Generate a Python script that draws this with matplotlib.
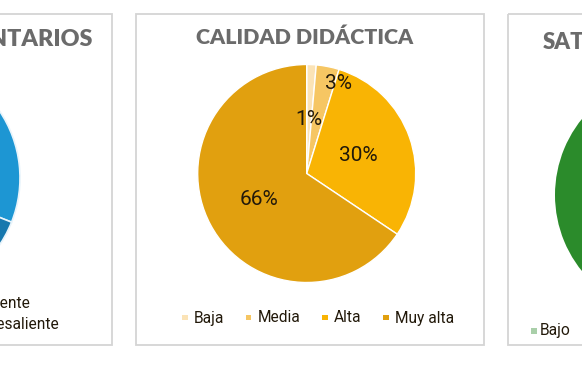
import matplotlib
matplotlib.use("Agg")
import matplotlib.pyplot as plt
from matplotlib.patches import Rectangle

W, H = 582, 373

# centre panel: didactic quality
calidad_labels = ["Baja", "Media", "Alta", "Muy alta"]
calidad_values = [1.4, 3.4, 29.6, 65.6]
calidad_colors = ["#fbe3b6", "#f6c663", "#f9b404", "#e1a00f"]

# left panel (cut off): only two slices visible
coment_values = [31, 69]
coment_colors = ["#1d96d3", "#1778ae"]
coment_legend = ["Excelente", "Sobresaliente"]

# right panel (cut off)
sat_values = [100]
sat_colors = ["#2b8b2b"]
sat_legend = ["Bajo"]
sat_legend_colors = ["#a9cfa9"]

TITLE_GRAY = "#6b6b6b"
BOX_GRAY = "#d4d4d4"
TEXT = "#22190a"
LEG_FONT = dict(fontsize=11.2, fontfamily="Roboto", color=TEXT)

fig = plt.figure(figsize=(W / 100, H / 100), dpi=100)
fig.patch.set_facecolor("white")
renderer = fig.canvas.get_renderer()

# background axes in pixel coordinates (y downwards)
bg = fig.add_axes([0, 0, 1, 1])
bg.set_xlim(0, W)
bg.set_ylim(H, 0)
bg.axis("off")


def pie_axes(cx, cy, r):
    ax = fig.add_axes([(cx - r) / W, (H - cy - r) / H, 2 * r / W, 2 * r / H])
    return ax


def finish(ax):
    ax.set_xlim(-1, 1)
    ax.set_ylim(-1, 1)
    ax.set_aspect("equal")
    ax.axis("off")


def legend_row(x, y, labels, colors, size=5.5, pad=6, gap=22):
    # small square + label, laid out left to right
    for lab, c in zip(labels, colors):
        bg.add_patch(Rectangle((x, y - size / 2 - 0.5), size, size, color=c,
                               linewidth=0))
        t = bg.text(x + size + pad, y, lab, ha="left", va="center", **LEG_FONT)
        w = t.get_window_extent(renderer).width
        x += size + pad + w + gap


# panel frames
for x0, x1 in [(-240, 112), (136, 484), (508, 860)]:
    bg.add_patch(Rectangle((x0, 13.5), x1 - x0, 331, fill=False,
                           edgecolor=BOX_GRAY, linewidth=1.3))

# titles
bg.text(93, 46.5, "COMENTARIOS", ha="right", va="baseline", fontsize=16.8,
        fontfamily="Lato", fontweight="heavy", color=TITLE_GRAY)
bg.text(305, 43.5, "CALIDAD DIDÁCTICA", ha="center", va="baseline", fontsize=15.4,
        fontfamily="Lato", fontweight="heavy", color=TITLE_GRAY)
bg.text(543, 49, "SATISFACCIÓN", ha="left", va="baseline", fontsize=16,
        fontfamily="Lato", fontweight="heavy", color=TITLE_GRAY)

# centre pie
ax = pie_axes(306.7, 173.5, 109)
wedges, texts, autotexts = ax.pie(
    calidad_values, colors=calidad_colors, startangle=90, counterclock=False,
    autopct="%1.0f%%", pctdistance=0.5, frame=True,
    wedgeprops=dict(edgecolor="white", linewidth=1),
    textprops=dict(fontsize=15, fontfamily="Roboto", color=TEXT))
autotexts[1].set_position((0.29, 0.83))
for w in wedges:
    w.set_clip_on(False)
finish(ax)
legend_row(182, 318, calidad_labels, calidad_colors)

# left pie (mostly off-canvas)
axl = pie_axes(-100, 178, 120)
axl.pie(coment_values, colors=coment_colors, startangle=90,
        counterclock=False, frame=True,
        wedgeprops=dict(edgecolor="#e8f4fb", linewidth=1.2))
finish(axl)
for i, lab in enumerate(coment_legend):
    bg.text(-36, 303 + 21.5 * i, lab, ha="left", va="center", **LEG_FONT)

# right pie (mostly off-canvas)
axr = pie_axes(676, 195, 121)
axr.pie(sat_values, colors=sat_colors, startangle=90, counterclock=False,
        frame=True)
finish(axr)
legend_row(531, 331, sat_legend, sat_legend_colors, size=6, pad=3)

fig.savefig("out.png", dpi=100, facecolor="white")
